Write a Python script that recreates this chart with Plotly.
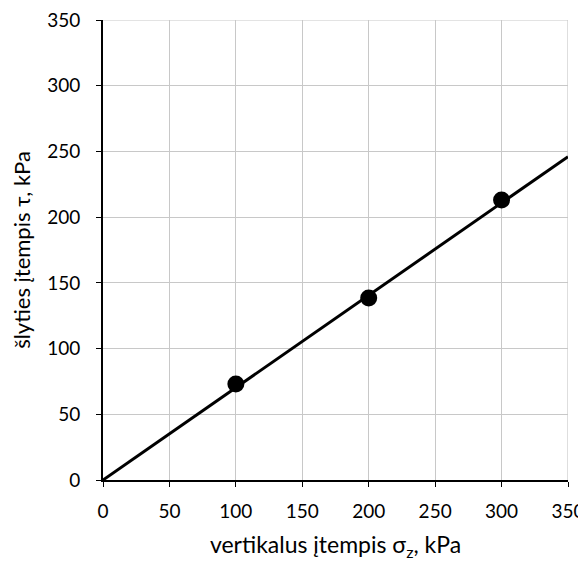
import plotly.graph_objects as go

sigma = [100, 200, 300]
tau = [73, 138.5, 213]
line_x = [0, 350]
line_y = [0, 246]
ticks = [0, 50, 100, 150, 200, 250, 300, 350]

fig = go.Figure()
fig.add_trace(go.Scatter(x=line_x, y=line_y, mode="lines",
                         line=dict(color="black", width=3), showlegend=False))
fig.add_trace(go.Scatter(x=sigma, y=tau, mode="markers",
                         marker=dict(color="black", size=17), showlegend=False))

axis_common = dict(range=[0, 350], tickvals=ticks, showgrid=True,
                   gridcolor="#c8c8c8", gridwidth=1.2,
                   showline=True, linecolor="black", linewidth=2,
                   ticks="outside", ticklen=5, tickcolor="black",
                   tickfont=dict(size=19, color="black"),
                   ticklabeloverflow="allow",
                   zeroline=False, mirror=False)

fig.update_xaxes(**axis_common, ticklabelstandoff=8,
                 title=dict(text="vertikalus įtempis σ<sub>z</sub>, kPa",
                            font=dict(size=23, color="black"), standoff=16))
fig.update_yaxes(**axis_common, ticklabelstandoff=12,
                 title=dict(text="šlyties įtempis τ, kPa",
                            font=dict(size=22, color="black"), standoff=10))

# the page has an 8px body margin, so the figure is sized to fit inside the window
fig.update_layout(width=578, height=557,
                  margin=dict(l=95, r=18, t=12, b=85, autoexpand=False),
                  plot_bgcolor="white", paper_bgcolor="white",
                  font=dict(family="Lato, Open Sans, sans-serif", color="black"))

fig.add_shape(type="line", x0=350, x1=350, y0=0, y1=350, xref="x", yref="y",
              line=dict(color="#c8c8c8", width=1.2), layer="below")
fig.add_shape(type="line", x0=0, x1=350, y0=350, y1=350, xref="x", yref="y",
              line=dict(color="#c8c8c8", width=1.2), layer="below")

fig.write_html("out.html")
